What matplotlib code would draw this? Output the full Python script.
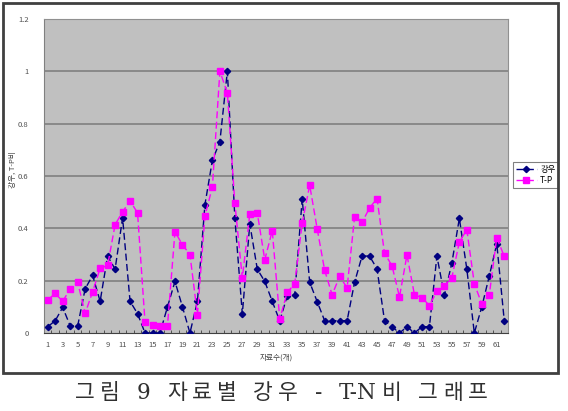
import matplotlib
matplotlib.use("Agg")
import matplotlib.pyplot as plt
from matplotlib.patches import Rectangle

plt.rcParams['font.family'] = ['Noto Sans CJK KR', 'DejaVu Sans']

# =====================================================
# DATOS
# =====================================================

muestras = list(range(1, 63))

gangu = [0.024, 0.047, 0.098, 0.027, 0.027, 0.169, 0.22, 0.121, 0.294, 0.244,
         0.44, 0.121, 0.074, 0, 0, 0, 0.10, 0.197, 0.10, 0,
         0.121, 0.49, 0.66, 0.731, 1.0, 0.44, 0.073, 0.417, 0.244, 0.197,
         0.121, 0.046, 0.142, 0.144, 0.512, 0.194, 0.12, 0.047, 0.047, 0.047,
         0.047, 0.194, 0.294, 0.294, 0.245, 0.047, 0.024, 0, 0.024, 0,
         0.024, 0.024, 0.294, 0.144, 0.268, 0.438, 0.244, 0, 0.10, 0.218,
         0.341, 0.047]

tp = [0.127, 0.151, 0.121, 0.169, 0.194, 0.075, 0.158, 0.247, 0.258, 0.414,
      0.463, 0.505, 0.459, 0.041, 0.029, 0.028, 0.028, 0.387, 0.337, 0.30,
      0.07, 0.447, 0.558, 1.0, 0.918, 0.498, 0.21, 0.456, 0.459, 0.28,
      0.391, 0.054, 0.155, 0.188, 0.42, 0.565, 0.399, 0.24, 0.146, 0.216,
      0.173, 0.443, 0.423, 0.478, 0.514, 0.305, 0.257, 0.138, 0.298, 0.146,
      0.135, 0.105, 0.16, 0.181, 0.212, 0.348, 0.395, 0.188, 0.111, 0.146,
      0.364, 0.293]

y_ticks = [0, 0.2, 0.4, 0.6, 0.8, 1.0, 1.2]
y_labels = ["0", "0.2", "0.4", "0.6", "0.8", "1", "1.2"]
x_ticks = list(range(1, 63, 2))

# pie de figura, en trozos para poder espaciar las letras
titulo = ["그", "림", " ", "9", " ", "자", "료", "별", " ", "강", "우", " ",
          "-", " ", "T-N", "비", " ", "그", "래", "프"]

# =====================================================
# FIGURA
# =====================================================

fig = plt.figure(figsize=(5.68, 4.11), dpi=100)

# marco del grafico
fig.patches.append(Rectangle((3 / 568, 1 - 373 / 411), 555 / 568, 370 / 411,
                             transform=fig.transFigure, fill=False,
                             edgecolor="#404040", linewidth=2))

ax = fig.add_axes([44 / 568, 1 - 333 / 411, 464 / 568, 314 / 411])
ax.set_facecolor("#c0c0c0")

for v in y_ticks[1:]:
    ax.axhline(v, color="#808080", linewidth=1.2, zorder=1)

ax.plot(muestras, gangu, color="#000080", linestyle=(0, (5, 2.5)),
        linewidth=1, marker="D", markersize=3.2, label="강우", zorder=3)

ax.plot(muestras, tp, color="#ff00ff", linestyle=(0, (5, 2.5)),
        linewidth=1, marker="s", markersize=4, label="T-P", zorder=4)

ax.set_xlim(0.5, 62.5)
ax.set_ylim(0, 1.2)

ax.set_yticks(y_ticks)
ax.set_yticklabels(y_labels)
ax.set_xticks(x_ticks)
ax.set_xticks([i + 0.5 for i in range(0, 63)], minor=True)

ax.tick_params(axis="y", length=0, labelsize=5.5, labelcolor="#505050", pad=11)
ax.tick_params(axis="x", which="major", length=0, labelsize=5.5,
               labelcolor="#505050", pad=6)
ax.tick_params(axis="x", which="minor", direction="in", length=2,
               color="#404040", width=0.6)

for lado in ["top", "right"]:
    ax.spines[lado].set_color("#909090")
ax.spines["left"].set_color("#808080")
ax.spines["bottom"].set_color("#404040")

ax.set_xlabel("자료수(개)", fontsize=5.5, color="#404040", labelpad=3)
ax.set_ylabel("강우, T-P비", fontsize=5.5, color="#404040")
ax.yaxis.set_label_coords((17 - 44) / 464, 0.52)

leg = ax.legend(loc="upper left", bbox_to_anchor=(1.011, 0.545),
                fontsize=6, frameon=True, fancybox=False,
                handlelength=2.5, borderpad=0.35, labelspacing=0.3,
                handletextpad=0.4, borderaxespad=0)
leg.get_frame().set_edgecolor("#606060")
leg.get_frame().set_linewidth(0.8)

# =====================================================
# PIE DE FIGURA
# =====================================================

textos = []
for c in titulo:
    t = fig.text(0, 1 - 393 / 411, c, ha="left", va="center", fontsize=15.5,
                 family=["DejaVu Serif", "Noto Sans CJK KR"], color="#303030")
    textos.append(t)

fig.canvas.draw()
render = fig.canvas.get_renderer()
anchos = []
for c, t in zip(titulo, textos):
    if c == " ":
        anchos.append(6.0)
    else:
        anchos.append(t.get_window_extent(render).width)

x_ini, x_fin = 75, 488
extra = (x_fin - x_ini - sum(anchos)) / (len(textos) - 1)
x = x_ini
for t, w in zip(textos, anchos):
    t.set_x(x / 568)
    x += w + extra

plt.savefig("out.png", dpi=100)
